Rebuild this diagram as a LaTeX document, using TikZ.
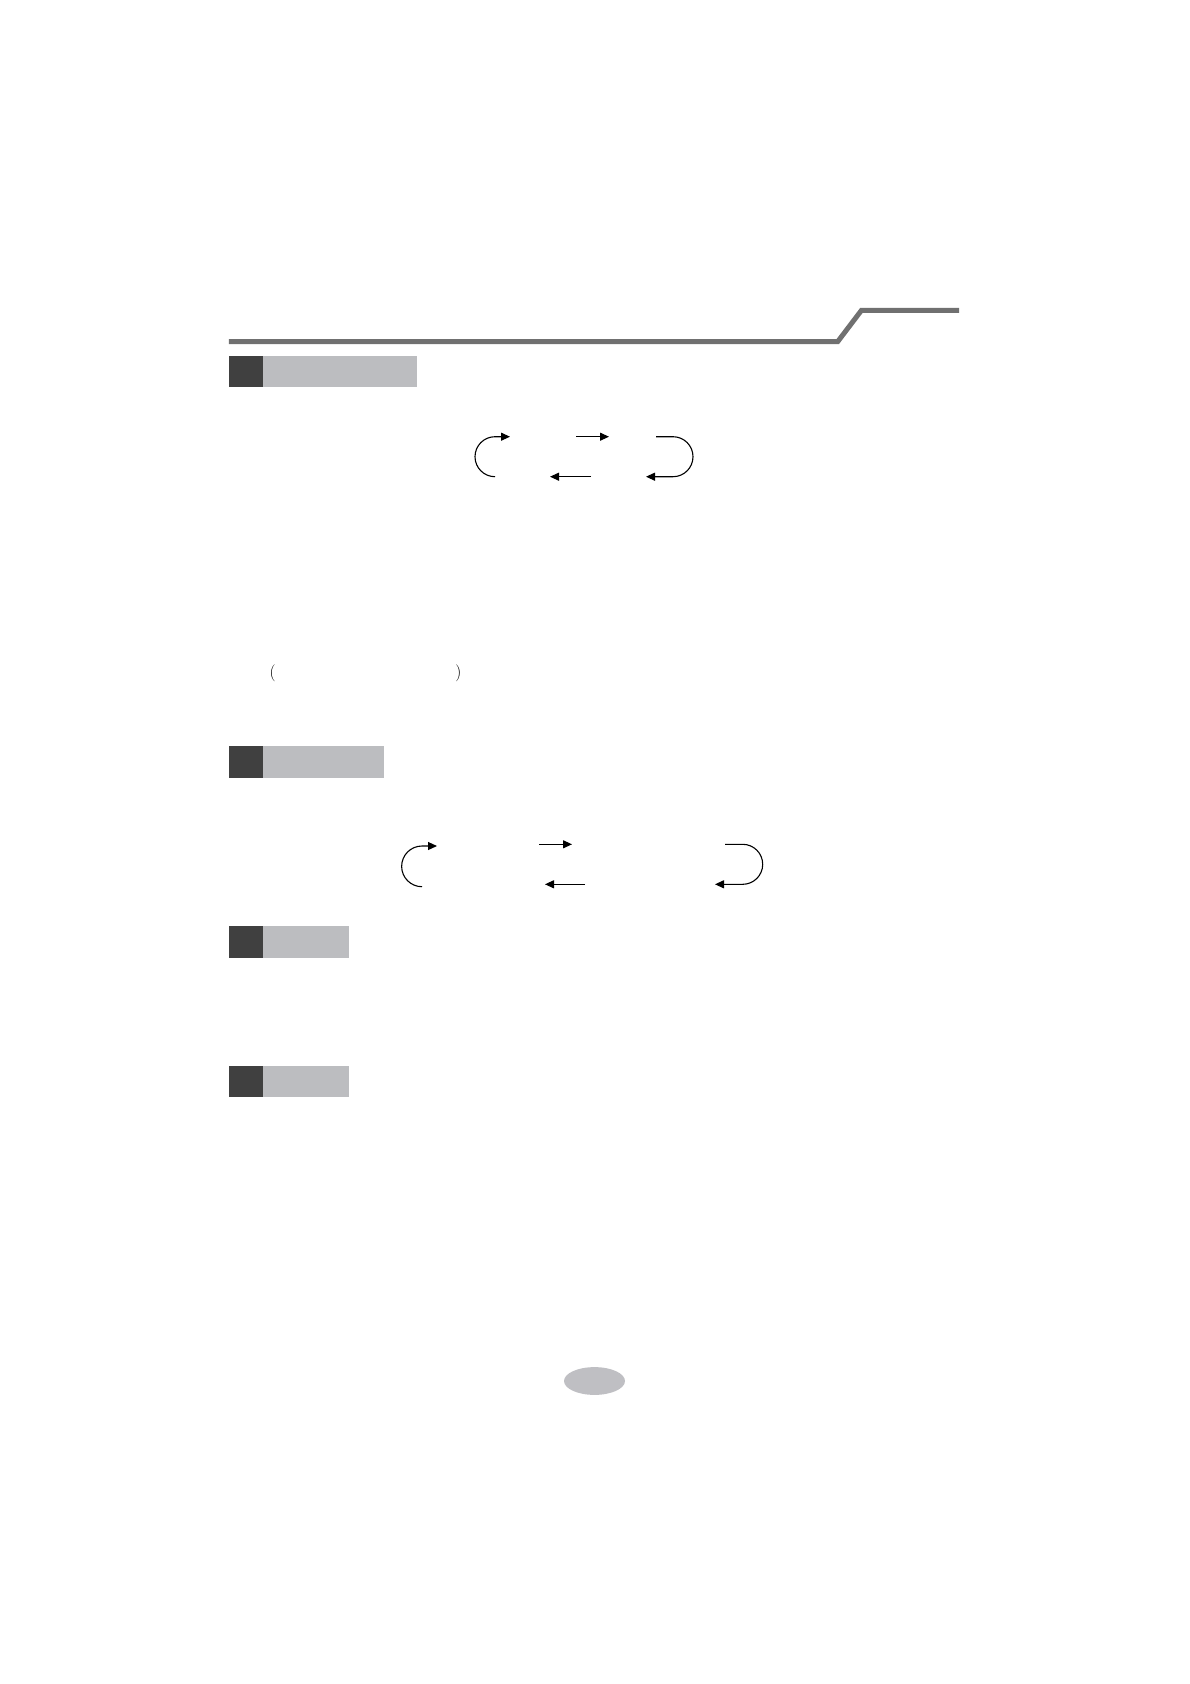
\documentclass[tikz,border=0pt]{standalone}
\usetikzlibrary{arrows.meta}
\definecolor{rulegray}{HTML}{707070}
\definecolor{darkbox}{HTML}{404040}
\definecolor{lightbox}{HTML}{BCBDC0}
\definecolor{pagegray}{HTML}{BFBFC3}
\begin{document}
\begin{tikzpicture}[x=1pt,y=-1pt,
  flow/.style={line width=1.1pt,-{Triangle[length=9pt,width=8pt]}}]
\useasboundingbox (0,0) rectangle (1190,1684);
% top rule
\draw[rulegray,line width=5pt] (228.8,341.5) -- (837.8,341.5) -- (861.4,310.4) -- (959,310.4);
% section headers
\foreach \ya/\yb/\xe in {355.5/386.6/416.7, 745.7/777.7/384, 926/957.7/349, 1066/1097.3/349}{
  \fill[darkbox] (228.8,\ya) rectangle (263,\yb);
  \fill[lightbox] (263,\ya) rectangle (\xe,\yb);
}
% cycle 1
\coordinate (a1s) at (495,476.7);
\coordinate (a1e) at (510,436.7);
\coordinate (b1s) at (576,436.7);
\coordinate (b1e) at (609,436.7);
\coordinate (c1s) at (591,476.7);
\coordinate (c1e) at (550,476.7);
\coordinate (d1s) at (656,436.7);
\coordinate (d1e) at (646,476.7);
\draw[flow] (a1s) arc[start angle=270,end angle=90,radius=20pt] -- (a1e);
\draw[flow] (b1s) -- (b1e);
\draw[flow] (c1s) -- (c1e);
\draw[flow] (d1s) -- (673,436.7) arc[start angle=90,end angle=-90,radius=20pt] -- (d1e);
% parentheses
\node[font=\fontsize{17}{20}\selectfont] (lp) at (272.7,673.3) {(};
\node[font=\fontsize{17}{20}\selectfont] (rp) at (458.3,673.3) {)};
% cycle 2
\coordinate (a2s) at (422,886.7);
\coordinate (a2e) at (437,846);
\coordinate (b2s) at (539,844.3);
\coordinate (b2e) at (572,844.3);
\coordinate (c2s) at (585,884.3);
\coordinate (c2e) at (545,884.3);
\coordinate (d2s) at (725,844.3);
\coordinate (d2e) at (715,884.3);
\draw[flow] (a2s) arc[start angle=270,end angle=90,radius=20.35pt] -- (a2e);
\draw[flow] (b2s) -- (b2e);
\draw[flow] (c2s) -- (c2e);
\draw[flow] (d2s) -- (742.7,844.3) arc[start angle=90,end angle=-90,radius=20pt] -- (d2e);
% page marker
\fill[pagegray] (594.5,1381) ellipse[x radius=30.5pt,y radius=13.9pt];
\end{tikzpicture}
\end{document}
